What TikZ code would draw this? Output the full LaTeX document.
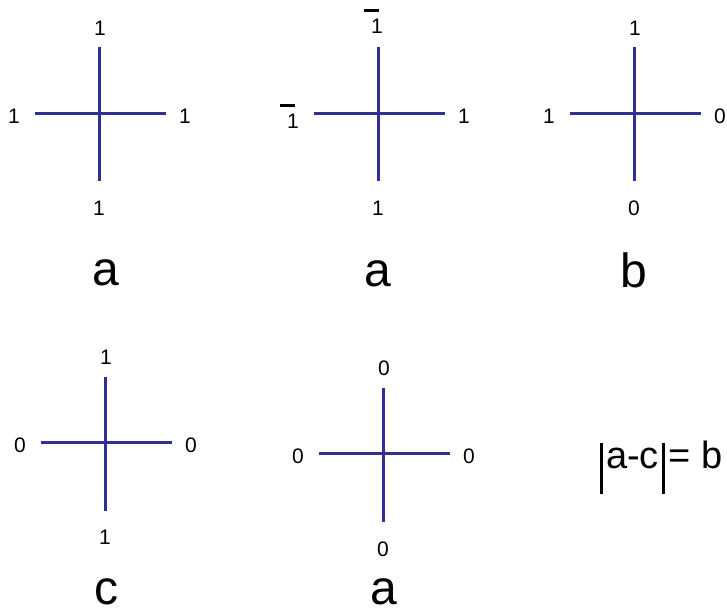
\documentclass[tikz,border=0pt]{standalone}
\usepackage{fontspec}
\setmainfont{Liberation Sans}
\definecolor{crossblue}{HTML}{2E3192}
\newcommand{\negone}{\makebox[0pt][l]{\hspace{-0.33em}\raisebox{1.05em}{\rule{0.7em}{0.13em}}}1}
\newcommand{\tallbar}{\hspace{0.09em}\rule[-0.67em]{0.075em}{1.36em}\hspace{0.09em}}

\begin{document}
\begin{tikzpicture}[
    x=0.5pt, y=-0.5pt,
    arm/.style={crossblue, line width=1.5pt},
    digit/.style={anchor=base, inner sep=0pt, font=\fontsize{10.5}{12}\selectfont},
    letter/.style={anchor=base, inner sep=0pt, font=\fontsize{24}{29}\selectfont}
]
\useasboundingbox (0,0) rectangle (727,613);

% cross centres
\coordinate (A) at (99,114);
\coordinate (B) at (378,114);
\coordinate (C) at (634,114);
\coordinate (D) at (105,443);
\coordinate (E) at (383,454);

% arms
\draw[arm] (A) ++(-64,0) -- ++(131,0) (A) ++(0,-67) -- ++(0,134);
\draw[arm] (B) ++(-64,0) -- ++(131,0) (B) ++(0,-67) -- ++(0,134);
\draw[arm] (C) ++(-64,0) -- ++(131,0) (C) ++(0,-67) -- ++(0,134);
\draw[arm] (D) ++(-64,0) -- ++(131,0) (D) ++(0,-66) -- ++(0,134);
\draw[arm] (E) ++(-64,0) -- ++(131,0) (E) ++(0,-66) -- ++(0,134);

% end labels
\node[digit] (A-n) at ([shift={(1,-78)}]A)   {1};
\node[digit] (A-w) at ([shift={(-85,9.5)}]A) {1};
\node[digit] (A-e) at ([shift={(86,9.5)}]A)  {1};
\node[digit] (A-s) at ([shift={(0,102)}]A)   {1};

\node[digit] (B-n) at ([shift={(-1,-80)}]B)  {\negone};
\node[digit] (B-w) at ([shift={(-85,15)}]B)  {\negone};
\node[digit] (B-e) at ([shift={(86,9.5)}]B)  {1};
\node[digit] (B-s) at ([shift={(0,102)}]B)   {1};

\node[digit] (C-n) at ([shift={(1,-78)}]C)   {1};
\node[digit] (C-w) at ([shift={(-85,9.5)}]C) {1};
\node[digit] (C-e) at ([shift={(86,9.5)}]C)  {0};
\node[digit] (C-s) at ([shift={(0,102)}]C)   {0};

\node[digit] (D-n) at ([shift={(1,-78)}]D)   {1};
\node[digit] (D-w) at ([shift={(-85,9.5)}]D) {0};
\node[digit] (D-e) at ([shift={(86,9.5)}]D)  {0};
\node[digit] (D-s) at ([shift={(0,102)}]D)   {1};

\node[digit] (E-n) at ([shift={(1,-78)}]E)   {0};
\node[digit] (E-w) at ([shift={(-85,9.5)}]E) {0};
\node[digit] (E-e) at ([shift={(86,9.5)}]E)  {0};
\node[digit] (E-s) at ([shift={(0,102)}]E)   {0};

% names under the crosses
\node[letter] (A-name) at (106,286) {a};
\node[letter] (B-name) at (378,287) {a};
\node[letter] (C-name) at (634,288) {b};
\node[letter] (D-name) at (106,604) {c};
\node[letter] (E-name) at (384,604) {a};

\node[anchor=base west, inner sep=0pt, font=\fontsize{19}{22}\selectfont] (rule)
    at (596,469) {\tallbar a-c\tallbar= b};
\end{tikzpicture}
\end{document}
